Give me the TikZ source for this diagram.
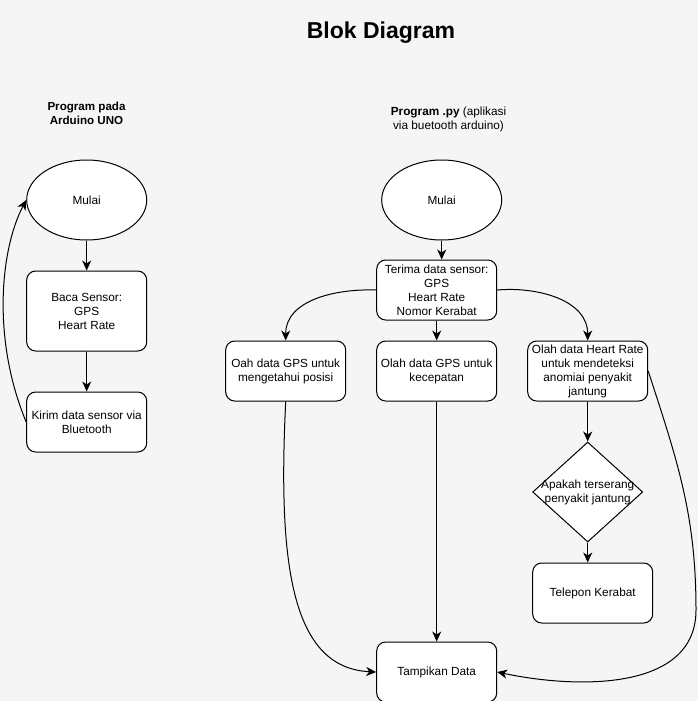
\documentclass[tikz,border=0pt]{standalone}
\usepackage{fontspec}
\setmainfont{Liberation Sans}
\usetikzlibrary{arrows.meta, positioning, shapes.geometric}
\definecolor{bgcanvas}{HTML}{F5F5F5}

\begin{document}
\begin{tikzpicture}[x=1pt, y=-1pt, line width=1pt,
    >={Stealth[length=10pt, width=9pt, inset=3pt]},
    font=\fontsize{11.8}{14}\selectfont,
    box/.style={draw, fill=white, rounded corners=9pt, minimum width=120pt,
                minimum height=60pt, align=center, inner sep=1pt},
    tallbox/.style={box, minimum height=80pt},
    startnode/.style={draw, fill=white, ellipse, minimum width=120pt,
                      minimum height=80pt},
    decision/.style={draw, fill=white, diamond, aspect=1.1, minimum width=110pt,
                     minimum height=100pt, inner xsep=-12pt, inner ysep=-6pt,
                     align=center},
    heading/.style={align=center}]
  \useasboundingbox[fill=bgcanvas] (0,0) rectangle (698,701);

  % titles
  \node[font=\fontsize{23}{27}\selectfont\bfseries] (titel) at (381,33) {Blok Diagram};
  \node[heading, font=\fontsize{11.6}{14}\selectfont\bfseries] (headA) at (86.5,113.5)
    {Program pada\\Arduino UNO};
  \node[heading] (headB) at (448.5,119.5)
    {\textbf{Program .py} (aplikasi\\via buetooth arduino)};

  % Arduino UNO
  \node[startnode] (mulaiA) at (86.7,200) {Mulai};
  \node[tallbox, below=30pt of mulaiA] (baca) {Baca Sensor:\\GPS\\Heart Rate};
  \node[box, below=40pt of baca] (kirim) {Kirim data sensor via\\Bluetooth};

  % aplikasi .py
  \node[startnode] (mulaiB) at (441.7,200) {Mulai};
  \node[box] (terima) at (436.7,290) {Terima data sensor:\\GPS\\Heart Rate\\Nomor Kerabat};
  \node[box, below=20pt of terima] (kecepatan) {Olah data GPS untuk\\kecepatan};
  \node[box, left=30pt of kecepatan] (posisi) {Oah data GPS untuk\\mengetahui posisi};
  \node[box, right=30pt of kecepatan] (jantung)
    {Olah data Heart Rate\\untuk mendeteksi\\anomiai penyakit\\jantung};
  \node[decision, below=40pt of jantung] (cek) {Apakah terserang\\penyakit jantung};
  \node[box, below=20pt of cek, xshift=5pt] (telepon) {Telepon Kerabat};
  \node[box, below=240pt of kecepatan] (tampil) {Tampikan Data};
  \coordinate (bendR) at (696,610);

  % connectors
  \draw[->] (mulaiA) -- (baca);
  \draw[->] (baca) -- (kirim);
  \draw[->] (kirim.west) .. controls (-8,340) and (0,250) .. (mulaiA.west);

  \draw[->] (mulaiB.south) -- (mulaiB.south |- terima.north);
  \draw[->] (terima.west) to[out=178, in=90] (posisi.north);
  \draw[->] (terima) -- (kecepatan);
  \draw[->] (terima.east) to[out=5, in=90] (jantung.north);
  \draw[->] (jantung) -- (cek);
  \draw[->] (cek.south) -- (cek.south |- telepon.north);
  \draw[->] (kecepatan) -- (tampil);
  \draw[->] (posisi.south) .. controls (278,560) and (290,668) .. (tampil.west);
  \draw[->] (jantung.east) to[out=-72, in=90] (bendR) to[out=-90, in=-12] (tampil.east);
\end{tikzpicture}
\end{document}
